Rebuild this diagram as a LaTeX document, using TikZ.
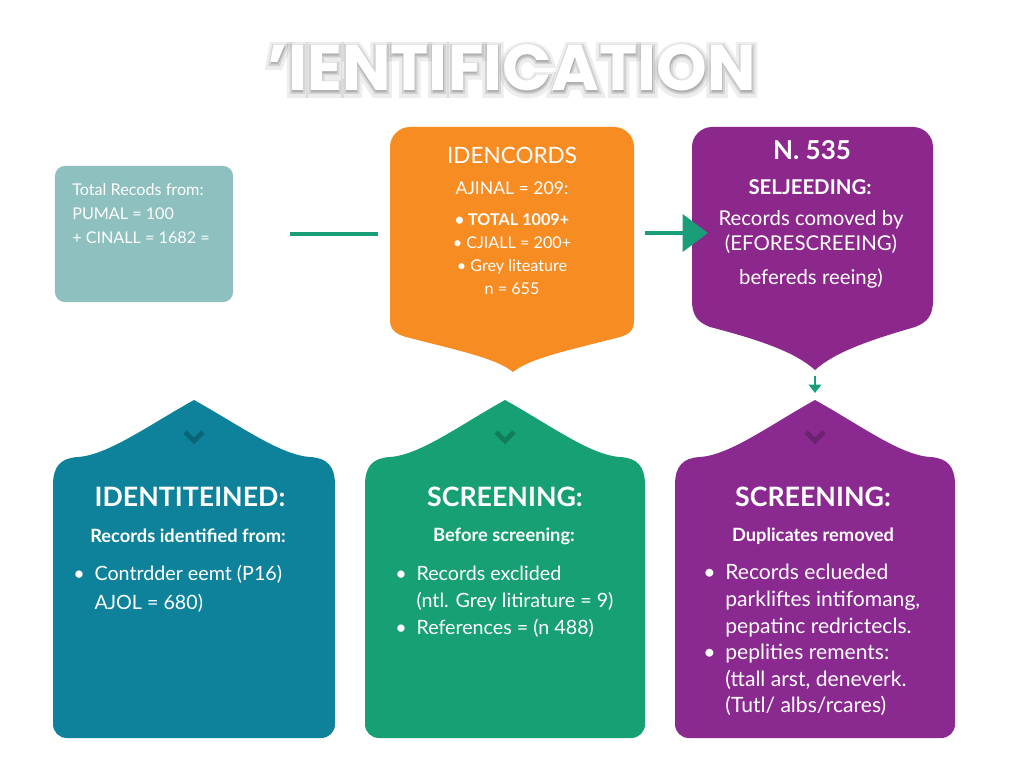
\documentclass[tikz,border=0pt]{standalone}
\usepackage{fontspec}
\setmainfont{Lato}
\newfontfamily\titlefont{Poppins}
\newfontfamily\glowwide{Poppins}[BoldFeatures={FakeBold=16}]
\newfontfamily\glownarrow{Poppins}[BoldFeatures={FakeBold=7}]
\usetikzlibrary{arrows.meta}

\definecolor{srcfill}{HTML}{8DC0BE}
\definecolor{idnfill}{HTML}{F78C23}
\definecolor{dupfill}{HTML}{8C288C}
\definecolor{tealfill}{HTML}{0E829B}
\definecolor{grnfill}{HTML}{17A073}
\definecolor{purfill}{HTML}{8A2A91}
\definecolor{arrowgreen}{HTML}{1A9E7A}

\tikzset{
  boxtext/.style={text=white, inner sep=0pt},
  headtext/.style={boxtext, font=\bfseries\fontsize{19}{22}\selectfont},
  subtext/.style={boxtext, font=\bfseries\fontsize{13}{16}\selectfont},
  listtext/.style={boxtext, anchor=west, font=\fontsize{14}{19.5}\selectfont},
  link/.style={draw=arrowgreen, line width=2.2pt},
}

\begin{document}
\begin{tikzpicture}[x=0.025cm, y=-0.025cm]
  \useasboundingbox[fill=white] (0,0) rectangle (1024,768);

  % title with a soft grey glow
  \node[text=black, opacity=0.07, font=\glowwide\bfseries\fontsize{46}{46}\selectfont] (glow) at (512,70) {’IENTIFICATION};
  \node[text=black, opacity=0.10, font=\glownarrow\bfseries\fontsize{46}{46}\selectfont] (glowin) at (512,69) {’IENTIFICATION};
  \node[text=white, font=\titlefont\bfseries\fontsize{46}{46}\selectfont] (title) at (512,68) {’IENTIFICATION};

  % source box
  \node[fill=srcfill, rounded corners=7pt, minimum width=4.45cm, minimum height=3.4cm] (src) at (144,234) {};
  \node[boxtext, anchor=west, align=left, font=\fontsize{11.5}{17}\selectfont] (srctxt) at (72,214)
    {Total Recods from:\\PUMAL = 100\\+ CINALL = 1682 =};

  % orange box
  \fill[idnfill] (390,320) -- (390,147) .. controls (390,136) and (399,127) .. (410,127) -- (614,127)
    .. controls (625,127) and (634,136) .. (634,147) -- (634,320) .. controls (634,330) and (630,334) .. (620,337)
    .. controls (570,350) and (530,358) .. (513,372) .. controls (496,358) and (456,350) .. (406,337)
    .. controls (396,334) and (390,330) .. (390,320) -- cycle;
  \coordinate (idn-w) at (390,234);
  \coordinate (idn-e) at (634,233);
  \node[boxtext, font=\fontsize{16}{19}\selectfont] (idnhead) at (512,155) {IDENCORDS};
  \node[boxtext, align=center, font=\fontsize{11.5}{16.3}\selectfont] (idntxt) at (512,238)
    {{\fontsize{12.5}{16}\selectfont AJINAL = 209:}\\[6pt]
     \textbf{\textbullet\ TOTAL 1009+}\\
     \textbullet\ CJIALL = 200+\\
     \textbullet\ Grey liteature\\
     n = 655};

  % purple box, top right
  \fill[dupfill] (692,300) -- (692,147) .. controls (692,136) and (701,127) .. (712,127) -- (913,127)
    .. controls (924,127) and (933,136) .. (933,147) -- (933,300) .. controls (933,315) and (928,322) .. (915,327)
    .. controls (870,340) and (835,352) .. (815,370) .. controls (795,352) and (760,340) .. (710,327)
    .. controls (697,322) and (692,315) .. (692,300) -- cycle;
  \coordinate (dup-w) at (692,233);
  \coordinate (dup-s) at (815,370);
  \node[boxtext, font=\bfseries\fontsize{18.5}{22}\selectfont] (duphead) at (812,150) {N. 535};
  \node[boxtext, font=\bfseries\fontsize{14.5}{17}\selectfont] (dupsub) at (810,187) {SELJEEDING:};
  \node[boxtext, align=center, font=\fontsize{14.5}{18}\selectfont] (duptxt) at (811,249)
    {Records comoved by\\(EFORESCREEING)\\[6pt]befereds reeing)};

  % lower boxes
  \foreach \l/\r/\c in {53/335/tealfill, 365/645/grnfill, 675/955/purfill} {
    \pgfmathsetmacro\m{(\l+\r)/2}
    \fill[\c] (\l,485) .. controls (\l,466) and (\l+8,458) .. (\l+25,457)
      .. controls (\l+55,455) and (\m-45,425) .. (\m,400)
      .. controls (\m+45,425) and (\r-55,455) .. (\r-25,457)
      .. controls (\r-8,458) and (\r,466) .. (\r,485) -- (\r,724)
      .. controls (\r,732) and (\r-6,738) .. (\r-14,738) -- (\l+14,738)
      .. controls (\l+6,738) and (\l,732) .. (\l,724) -- cycle;
    \draw[\c!78!black, line width=3.5pt] (\m-9,432) -- (\m,441) -- (\m+9,432);
  }
  \coordinate (scb-n) at (815,400);

  \node[headtext] (idbhead) at (190,497) {IDENTITEINED:};
  \node[subtext] (idbsub) at (188,536) {Records identified from:};
  \node[listtext, font=\fontsize{14}{20.5}\selectfont] (idblist) at (73,589)
    {\begin{tabular}{@{}l@{\hspace{7pt}}l@{}}\textbullet & Contrdder eemt (P16)\\ & AJOL = 680)\end{tabular}};

  \node[headtext] (scbhead) at (505,497) {SCREENING:};
  \node[subtext] (scbsub) at (504,536) {Before screening:};
  \node[listtext] (scblist) at (395,602)
    {\begin{tabular}{@{}l@{\hspace{7pt}}l@{}}\textbullet & Records exclided\\ & (ntl. Grey litirature = 9)\\
     \textbullet & References = (n 488)\end{tabular}};

  \node[headtext] (dpbhead) at (813,497) {SCREENING:};
  \node[subtext] (dpbsub) at (813,536) {Duplicates removed};
  \node[listtext, font=\fontsize{15}{18.9}\selectfont] (dpblist) at (703,641)
    {\begin{tabular}{@{}l@{\hspace{7pt}}l@{}}\textbullet & Records eclueded\\ & parkliftes intifomang,\\
     & pepatinc redrictecls.\\ \textbullet & peplities rements:\\ & (ttall arst, deneverk.\\
     & (Tutl/ albs/rcares)\end{tabular}};

  % connectors
  \draw[link, shorten <=1.425cm, shorten >=0.3cm] (src.east) -- (idn-w);
  \draw[arrowgreen, line width=3.5pt, -{Triangle[width=26pt,length=18pt]},
    shorten <=0.275cm, shorten >=-0.4cm] (idn-e) -- (dup-w);
  \draw[arrowgreen, line width=2pt, -{Triangle[width=9pt,length=6pt]},
    shorten <=0.15cm, shorten >=0.175cm] (dup-s) -- (scb-n);
\end{tikzpicture}
\end{document}
